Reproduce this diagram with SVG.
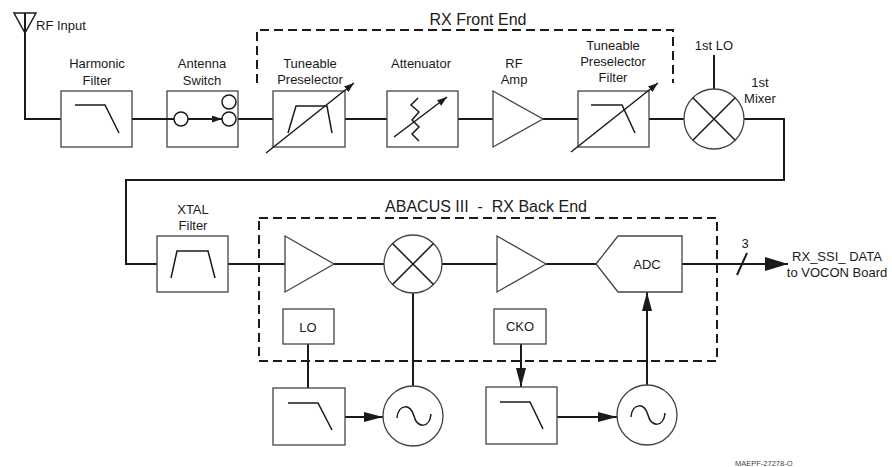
<svg xmlns="http://www.w3.org/2000/svg" width="892" height="467" viewBox="0 0 892 467">
<style>
text{font-family:"Liberation Sans",Arial,sans-serif;font-size:13px;fill:#1a1a1a;text-anchor:middle}
.big{font-size:16px}
.tiny{font-size:7.5px;fill:#444;text-anchor:start}
.box{fill:#fff;stroke:#444;stroke-width:1.3}
.sym{fill:none;stroke:#1a1a1a;stroke-width:1.5}
.wire{fill:none;stroke:#1a1a1a;stroke-width:2}
.dash{fill:none;stroke:#1a1a1a;stroke-width:2;stroke-dasharray:9 5}
</style>
<defs>
<marker id="arr" markerUnits="userSpaceOnUse" markerWidth="19" markerHeight="10" refX="19" refY="5" orient="auto"><path d="M0,0L19,5L0,10z" fill="#1a1a1a"/></marker>
<marker id="arrBig" markerUnits="userSpaceOnUse" markerWidth="23" markerHeight="14" refX="23" refY="7" orient="auto"><path d="M0,0L23,7L0,14z" fill="#1a1a1a"/></marker>
<marker id="arrSm" markerUnits="userSpaceOnUse" markerWidth="10" markerHeight="7" refX="10" refY="3.5" orient="auto"><path d="M0,0L10,3.5L0,7z" fill="#1a1a1a"/></marker>
</defs>

<g id="front-end-frame">
<path class="dash" d="M257 83V30H673V83"/>
<text class="big" x="478" y="25">RX Front End</text>
</g>
<g id="back-end-frame">
<rect class="dash" x="259" y="218" width="458" height="143"/>
<text class="big" x="486" y="212" xml:space="preserve">ABACUS III  -  RX Back End</text>
</g>

<g id="connectors">
<path class="wire" d="M25 13V119H61"/>
<path class="wire" d="M132 119H174"/>
<path class="wire" d="M236 119H273"/>
<path class="wire" d="M345 119H387"/>
<path class="wire" d="M458 119H493"/>
<path class="wire" d="M543 119H578"/>
<path class="wire" d="M649 119H684"/>
<path class="wire" d="M714 55V89"/>
<path class="wire" d="M744 119H784V180H126V264H157"/>
<path class="wire" d="M228 264H285"/>
<path class="wire" d="M334 264H384"/>
<path class="wire" d="M442 264H497"/>
<path class="wire" d="M546 264H596"/>
<path class="wire" d="M682 264H788" marker-end="url(#arrBig)"/>
<path class="wire" d="M737 275L747 253"/>
<path class="wire" d="M308 344V388"/>
<path class="wire" d="M345 417H383" marker-end="url(#arr)"/>
<path class="wire" d="M413 386V293"/>
<path class="wire" d="M521 344V387" marker-end="url(#arr)"/>
<path class="wire" d="M557 417H617" marker-end="url(#arr)"/>
<path class="wire" d="M647 385V292" marker-end="url(#arr)"/>
</g>

<g id="antenna">
<path class="sym" d="M14 13H36L25 33Z"/>
<text x="36" y="29.5" style="text-anchor:start">RF Input</text>
</g>

<g id="harmonic-filter">
<text x="97" y="68">Harmonic</text>
<text x="97" y="84.5">Filter</text>
<rect class="box" x="61" y="91" width="71" height="56"/>
<path class="sym" d="M75 105H105L119 133"/>
</g>

<g id="antenna-switch">
<text x="202" y="68">Antenna</text>
<text x="202" y="84.5">Switch</text>
<rect class="box" x="167" y="91" width="71" height="56"/>
<path class="wire" d="M132 119H174"/>
<circle class="sym" cx="181" cy="119" r="7" fill="#fff"/>
<path class="wire" d="M188 119H222" marker-end="url(#arrSm)"/>
<circle class="sym" cx="229" cy="102" r="7"/>
<circle class="sym" cx="229" cy="119" r="7"/>
</g>

<g id="tuneable-preselector">
<text x="310" y="67.5">Tuneable</text>
<text x="310" y="84">Preselector</text>
<rect class="box" x="273" y="91" width="72" height="56"/>
<path class="sym" d="M288 133L296 106H327L332 133"/>
<path class="sym" d="M266 153L354 83" marker-end="url(#arrSm)"/>
</g>

<g id="attenuator">
<text x="421" y="67.5">Attenuator</text>
<rect class="box" x="387" y="91" width="71" height="56"/>
<path class="sym" d="M418 98L411 105L419 112L412 120L419 127L412 134L419 141"/>
<path class="sym" d="M394 137L447 97" marker-end="url(#arrSm)"/>
</g>

<g id="rf-amp">
<text x="514" y="67.5">RF</text>
<text x="514" y="84">Amp</text>
<path class="box" d="M493 91L543 119L493 147Z"/>
</g>

<g id="tuneable-preselector-filter">
<text x="613" y="50">Tuneable</text>
<text x="613" y="66">Preselector</text>
<text x="613" y="82">Filter</text>
<rect class="box" x="578" y="91" width="71" height="56"/>
<path class="sym" d="M591 105H622L635 133"/>
<path class="sym" d="M571 152L658 83" marker-end="url(#arrSm)"/>
</g>

<g id="first-mixer">
<text x="714" y="50">1st LO</text>
<text x="760" y="86.5">1st</text>
<text x="760" y="103">Mixer</text>
<circle class="box" cx="714" cy="119" r="30"/>
<path class="sym" d="M692.8 97.8L735.2 140.2M735.2 97.8L692.8 140.2"/>
</g>

<g id="xtal-filter">
<text x="193" y="214">XTAL</text>
<text x="193" y="230">Filter</text>
<rect class="box" x="157" y="236" width="71" height="56"/>
<path class="sym" d="M171 278L177 251H208L215 278"/>
</g>

<g id="if-amp-1">
<path class="box" d="M285 236L334 264L285 292Z"/>
</g>

<g id="second-mixer">
<circle class="box" cx="413" cy="264" r="29"/>
<path class="sym" d="M392.5 243.5L433.5 284.5M433.5 243.5L392.5 284.5"/>
</g>

<g id="if-amp-2">
<path class="box" d="M497 236L546 264L497 292Z"/>
</g>

<g id="adc">
<path class="box" d="M596 264L618 236H682V292H618Z"/>
<text x="647" y="268.5">ADC</text>
</g>

<g id="output">
<text x="745" y="247.5">3</text>
<text x="837" y="260.5">RX_SSI_ DATA</text>
<text x="837" y="276.5">to VOCON Board</text>
</g>

<g id="lo">
<rect class="box" x="283" y="309" width="51" height="35"/>
<text x="308" y="331.5">LO</text>
</g>

<g id="cko">
<rect class="box" x="494" y="309" width="52" height="35"/>
<text x="520" y="330.5">CKO</text>
</g>

<g id="lo-filter">
<rect class="box" x="273" y="388" width="72" height="57"/>
<path class="sym" d="M288 403H318L332 430"/>
</g>

<g id="lo-oscillator">
<circle class="box" cx="413" cy="416" r="30"/>
<path class="sym" d="M397 418C398 404 411 403 414 416C417 429 430 428 431 414"/>
</g>

<g id="cko-filter">
<rect class="box" x="486" y="387" width="71" height="57"/>
<path class="sym" d="M500 402H530L543 429"/>
</g>

<g id="cko-oscillator">
<circle class="box" cx="647" cy="415" r="30"/>
<path class="sym" d="M631 417C632 403 645 402 648 415C651 428 664 427 665 413"/>
</g>

<text class="tiny" x="735" y="465.5">MAEPF-27278-O</text>
</svg>
